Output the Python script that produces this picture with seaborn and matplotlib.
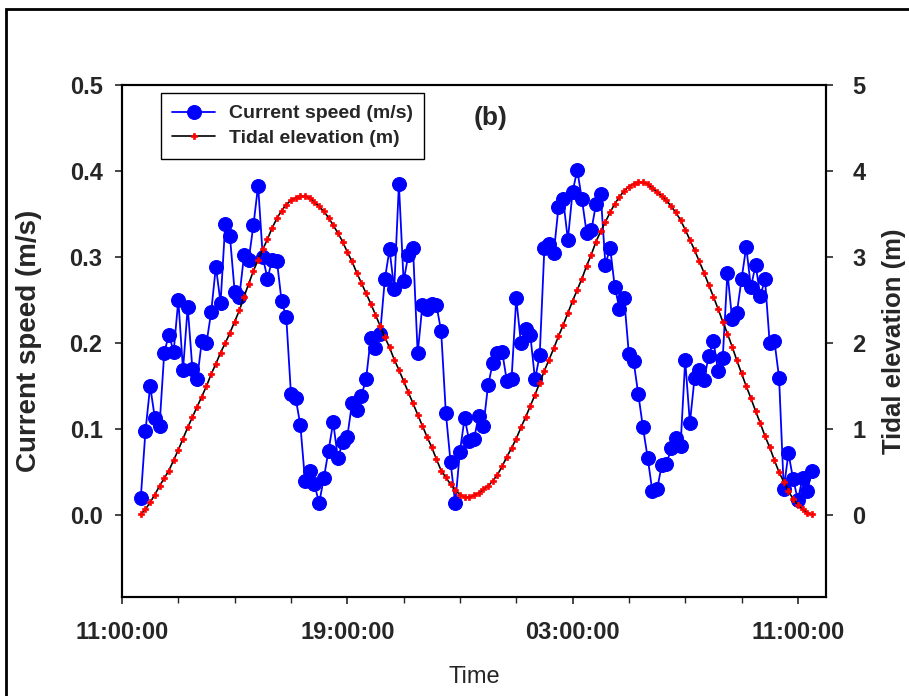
import pandas as pd
import matplotlib.pyplot as plt
import matplotlib.dates as mdates
from matplotlib.patches import Rectangle
import seaborn as sns

# 10-minute records, 11:40 -> 11:30 next day
times = pd.date_range("2000-01-01 11:40", periods=144, freq="10min")

current_speed = [
    0.020, 0.098, 0.150, 0.113, 0.104, 0.189, 0.210, 0.190, 0.250, 0.169,
    0.242, 0.170, 0.158, 0.202, 0.200, 0.236, 0.289, 0.247, 0.339, 0.324,
    0.260, 0.254, 0.302, 0.297, 0.337, 0.383, 0.300, 0.275, 0.297, 0.296,
    0.249, 0.230, 0.141, 0.136, 0.105, 0.040, 0.052, 0.036, 0.014, 0.043,
    0.075, 0.108, 0.066, 0.085, 0.091, 0.130, 0.122, 0.139, 0.158, 0.206,
    0.194, 0.211, 0.274, 0.309, 0.263, 0.385, 0.272, 0.302, 0.311, 0.188,
    0.244, 0.240, 0.245, 0.244, 0.214, 0.119, 0.062, 0.014, 0.074, 0.113,
    0.086, 0.089, 0.115, 0.104, 0.151, 0.177, 0.188, 0.190, 0.156, 0.158,
    0.252, 0.200, 0.217, 0.209, 0.158, 0.186, 0.311, 0.315, 0.305, 0.358,
    0.367, 0.320, 0.376, 0.401, 0.367, 0.328, 0.331, 0.362, 0.373, 0.291,
    0.311, 0.265, 0.240, 0.252, 0.187, 0.179, 0.141, 0.102, 0.067, 0.028,
    0.030, 0.058, 0.059, 0.078, 0.090, 0.080, 0.180, 0.107, 0.160, 0.169,
    0.157, 0.185, 0.203, 0.168, 0.183, 0.282, 0.228, 0.235, 0.274, 0.312,
    0.265, 0.291, 0.255, 0.274, 0.200, 0.203, 0.160, 0.031, 0.072, 0.042,
    0.018, 0.043, 0.028, 0.052,
]

tidal_elevation = [
    0.01, 0.07, 0.15, 0.24, 0.34, 0.43, 0.52, 0.64, 0.76, 0.89, 1.02, 1.14,
    1.26, 1.38, 1.50, 1.64, 1.76, 1.89, 2.00, 2.12, 2.25, 2.38, 2.54, 2.69,
    2.84, 2.97, 3.09, 3.21, 3.34, 3.45, 3.54, 3.61, 3.66, 3.69, 3.71, 3.71,
    3.69, 3.64, 3.59, 3.53, 3.46, 3.37, 3.28, 3.18, 3.06, 2.95, 2.82, 2.70,
    2.58, 2.46, 2.33, 2.20, 2.07, 1.95, 1.81, 1.69, 1.56, 1.43, 1.30, 1.17,
    1.04, 0.91, 0.79, 0.65, 0.52, 0.44, 0.36, 0.29, 0.24, 0.21, 0.21, 0.23,
    0.26, 0.30, 0.34, 0.40, 0.47, 0.57, 0.68, 0.78, 0.89, 1.02, 1.14, 1.27,
    1.40, 1.54, 1.68, 1.81, 1.94, 2.08, 2.21, 2.35, 2.49, 2.62, 2.75, 2.90,
    3.03, 3.18, 3.30, 3.41, 3.52, 3.62, 3.70, 3.77, 3.82, 3.85, 3.87, 3.87,
    3.85, 3.80, 3.76, 3.71, 3.66, 3.59, 3.52, 3.43, 3.32, 3.20, 3.08, 2.95,
    2.82, 2.68, 2.54, 2.40, 2.25, 2.11, 1.96, 1.80, 1.65, 1.50, 1.36, 1.21,
    1.07, 0.92, 0.79, 0.64, 0.50, 0.39, 0.28, 0.19, 0.12, 0.07, 0.03, 0.01,
]

speed_ticks = [0.0, 0.1, 0.2, 0.3, 0.4, 0.5]
tide_ticks = [0, 1, 2, 3, 4, 5]

df = pd.DataFrame({"time": times, "speed": current_speed, "tide": tidal_elevation})

sns.set_style("ticks")
plt.rcParams["font.family"] = ["Liberation Sans", "DejaVu Sans"]
plt.rcParams["font.weight"] = "bold"

fig = plt.figure(figsize=(9.09, 6.96), dpi=100)
ax1 = fig.add_axes([122 / 909, (696 - 597) / 696, 704 / 909, 512 / 696])
ax2 = ax1.twinx()

sns.lineplot(data=df, x="time", y="speed", ax=ax1, color="#0000ff",
             linewidth=1.3, marker="o", markersize=10,
             markeredgecolor="#0000ff", estimator=None, legend=False)
sns.lineplot(data=df, x="time", y="tide", ax=ax2, color="black",
             linewidth=1.2, marker="P", markersize=5,
             markerfacecolor="red", markeredgecolor="red",
             markeredgewidth=0.5, estimator=None, legend=False)

# axes ranges
ax1.set_xlim(pd.Timestamp("2000-01-01 11:00"), pd.Timestamp("2000-01-02 12:00"))
ax1.set_ylim(-0.095, 0.5)
ax2.set_ylim(-0.95, 5)
ax1.set_yticks(speed_ticks)
ax1.set_yticklabels([f"{v:.1f}" for v in speed_ticks])
ax2.set_yticks(tide_ticks)
ax2.set_yticklabels([str(v) for v in tide_ticks])

ax1.xaxis.set_major_locator(mdates.HourLocator(byhour=[3, 11, 19]))
ax1.xaxis.set_minor_locator(mdates.HourLocator(byhour=range(1, 24, 2)))
ax1.xaxis.set_major_formatter(mdates.DateFormatter("%H:%M:%S"))

ax1.tick_params(axis="x", which="major", direction="out", length=5, width=1.2,
                labelsize=17, pad=12)
ax1.tick_params(axis="x", which="minor", direction="out", length=4, width=1.0)
ax1.tick_params(axis="y", direction="out", length=5, width=1.2, labelsize=17, pad=9)
ax2.tick_params(axis="y", direction="out", length=5, width=1.2, labelsize=17, pad=14)

for ax in (ax1, ax2):
    for s in ax.spines.values():
        s.set_linewidth(1.5)
        s.set_color("black")

ax1.set_xlabel("Time", fontsize=17, fontweight="normal")
ax1.xaxis.set_label_coords(0.5, -0.135)
ax1.set_ylabel("Current speed (m/s)", fontsize=20, fontweight="bold")
ax1.yaxis.set_label_coords(-0.114, 0.5)
ax2.set_ylabel("Tidal elevation (m)", fontsize=18.5, fontweight="bold")
ax2.yaxis.set_label_coords(1.079, 0.5)

ax1.text(0.523, 0.936, "(b)", transform=ax1.transAxes, fontsize=19,
         fontweight="bold", ha="center", va="center")

leg = ax2.legend(handles=[ax1.lines[0], ax2.lines[0]],
                 labels=["Current speed (m/s)", "Tidal elevation (m)"],
                 loc="upper left", bbox_to_anchor=(0.055, 0.984),
                 borderaxespad=0, fancybox=False, edgecolor="black",
                 framealpha=1, fontsize=14, handlelength=2.2,
                 handletextpad=0.7, borderpad=0.6, labelspacing=0.35)
leg.get_frame().set_linewidth(1.0)

# outer frame of the figure
fig.patches.append(Rectangle((6 / 909, -0.05), 1.0, (696 - 9) / 696 + 0.05,
                             transform=fig.transFigure, fill=False,
                             edgecolor="black", linewidth=2, figure=fig))

fig.savefig("out.png", dpi=100)
